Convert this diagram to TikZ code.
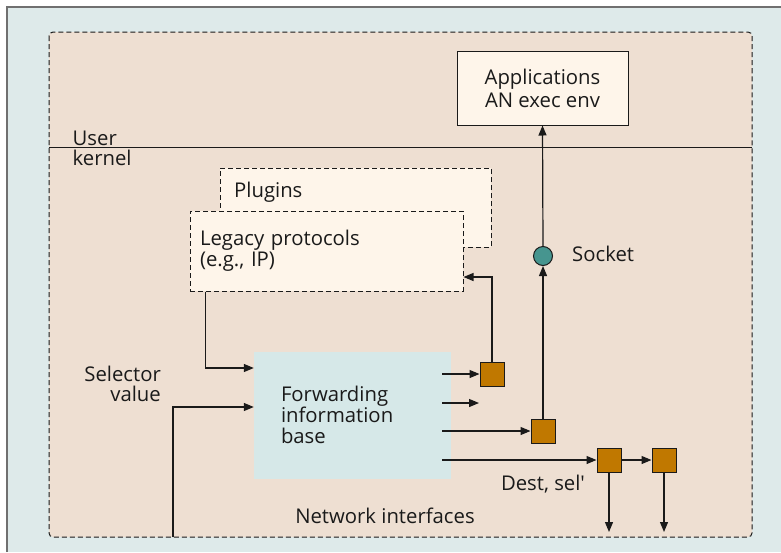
\documentclass[tikz,border=0pt]{standalone}
\usepackage{fontspec}
\setmainfont{Open Sans}
\usetikzlibrary{arrows.meta}
\definecolor{bgc}{HTML}{DEEAEA}
\definecolor{regc}{HTML}{EEDFD2}
\definecolor{creamc}{HTML}{FEF5EA}
\definecolor{fibc}{HTML}{D6E8E8}
\definecolor{sqc}{HTML}{C07800}
\definecolor{sockc}{HTML}{46958F}
\definecolor{framec}{HTML}{707070}
\definecolor{inkc}{HTML}{1A1A1A}
\begin{document}
\begin{tikzpicture}[x=1pt,y=-1pt,
  font=\fontsize{20.3}{23}\selectfont, text=inkc,
  arr/.style={draw=inkc, line width=1.2pt, -{Triangle[length=10pt,width=8pt]}},
  dsh/.style={dash pattern=on 5pt off 3pt, line width=1pt},
  dbox/.style={draw=inkc, dsh, fill=creamc, inner sep=0pt},
  sq/.style={draw=inkc, line width=1pt, fill=sqc, minimum size=24pt, inner sep=0pt},
  lbl/.style={inner sep=0pt}]
\useasboundingbox (0,0) rectangle (781,552);
\fill[white] (0,0) rectangle (781,552);
\fill[bgc] (7,7) rectangle (781,552);
\draw[framec, line width=2pt] (7,552) -- (7,7) -- (781,7);
% region
\draw[draw=inkc, fill=regc, dsh, rounded corners=4pt] (49,32) rectangle (752,537);
\draw[inkc, line width=1pt] (49,147.5) -- (752,147.5);
\node[lbl, anchor=base west] (user) at (72.5,145) {User};
\node[lbl, anchor=base west] (kern) at (72.5,165) {kernel};
% applications
\node[draw=inkc, line width=1pt, fill=creamc, minimum width=171pt, minimum height=74pt, align=center, inner sep=0pt] (app) at (542.5,88) {Applications\\AN exec env};
% plugins & legacy
\node[dbox, minimum width=271pt, minimum height=79pt] (plug) at (355.5,207.5) {};
\node[lbl, anchor=base west] (plugt) at (234,197.5) {Plugins};
\node[dbox, minimum width=273pt, minimum height=80pt, text width=253pt, inner xsep=10pt, align=left] (legacy) at (326.5,251) {Legacy protocols\\[-2pt](e.g., IP)};
% FIB
\node[fill=fibc, minimum width=197pt, minimum height=127pt, inner sep=0pt] (fib) at (352.5,415.5) {};
\node[lbl, text width=170pt, align=left] (fibtxt) at (366,414.5) {Forwarding\\[-2pt]information\\[-2pt]base};
% socket and squares
\node[circle, draw=inkc, line width=1pt, fill=sockc, minimum size=19pt, inner sep=0pt] (sock) at (543,256) {};
\node[lbl, anchor=base west] (sockt) at (572,261) {Socket};
\node[sq] (sq1) at (492,374) {};
\node[sq] (sq2) at (543,431) {};
\node[sq] (sq3) at (609,460) {};
\node[sq] (sq4) at (664,460) {};
\node[lbl, anchor=base east] (selt1) at (161,381.5) {Selector};
\node[lbl, anchor=base east] (selt2) at (161,401.5) {value};
\node[lbl, anchor=base] (destt) at (543,490) {Dest, sel\textquotesingle};
\node[lbl, anchor=base] (netw) at (385,523.5) {Network interfaces};
% coordinates
\coordinate (o1) at (442,374);
\coordinate (o2) at (442,403);
\coordinate (e2) at (479,403);
\coordinate (o3) at (442,431);
\coordinate (o4) at (442,460);
\coordinate (d3) at (609,532);
\coordinate (d4) at (664,532);
\coordinate (sel) at (173,537);
% connectors
\draw[arr] ([xshift=16pt]legacy.south west) |- ([yshift=47.5pt]fib.west);
\draw[arr] (sel) |- ([yshift=8.5pt]fib.west);
\draw[arr] (o1) -- (sq1.west);
\draw[arr] (o2) -- (e2);
\draw[arr] (o3) -- (sq2.west);
\draw[arr] (o4) -- (sq3.west);
\draw[arr] (sq3) -- (sq4);
\draw[arr] (sq3.south) -- (d3);
\draw[arr] (sq4.south) -- (d4);
\draw[arr] (sq1.north) |- ([yshift=-26pt]legacy.east);
\draw[arr] (sq2.north) -- (sock.south);
\draw[arr] (sock.north) -- (app.south);
\end{tikzpicture}
\end{document}
